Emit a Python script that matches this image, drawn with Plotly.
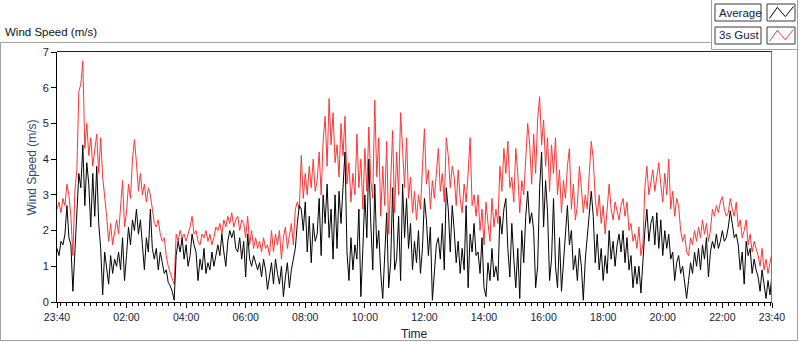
import pandas as pd
import plotly.graph_objects as go

# ---------------- data (4-minute samples, 23:40 -> 23:40 next day) ----------------
gust = [
    2.6, 2.8, 2.5, 2.9, 2.7, 3.3, 3.0, 2.4, 1.3, 3.1,
    3.7, 5.9, 6.1, 6.75, 4.3, 5.0, 4.1, 4.6, 3.8, 4.2,
    4.7, 3.6, 4.6, 3.5, 3.0, 2.4, 1.7, 2.2, 1.6, 2.0,
    2.3, 1.9, 2.6, 3.4, 2.1, 2.5, 3.3, 2.9, 4.0, 4.55,
    3.9, 3.1, 3.6, 3.0, 3.3, 2.8, 3.2, 3.0, 2.6, 2.2,
    2.1, 2.3, 1.9, 1.7, 1.8, 1.3, 1.0, 0.8, 0.65, 0.5,
    1.9, 1.7, 2.0, 1.8, 1.9, 1.7, 1.9, 2.1, 2.4, 1.9, 2.0,
    1.7, 1.6, 1.9, 1.8, 2.0, 1.7, 1.9, 1.6, 1.8, 2.1,
    2.0, 2.2, 1.9, 2.3, 2.1, 2.4, 2.2, 2.5, 2.1, 2.3,
    2.4, 2.0, 2.3, 2.2, 1.8, 2.4, 1.6, 2.0, 1.5, 1.8,
    1.5, 1.7, 1.4, 1.8, 1.5, 1.6, 1.3, 2.0, 1.4, 1.9,
    1.6, 2.0, 1.2, 1.8, 2.1, 1.5, 1.9, 2.2, 1.6, 2.6,
    2.8, 2.6, 4.1, 2.9, 3.6, 3.0, 3.8, 3.2, 4.0, 3.1,
    3.4, 4.2, 3.0, 4.5, 5.2, 3.8, 5.7, 4.4, 5.3, 3.9,
    4.4, 3.5, 5.0, 4.1, 5.2, 3.3, 3.9, 2.8, 3.6, 3.0,
    4.7, 3.2, 4.0, 2.6, 4.3, 3.1, 4.9, 3.4, 2.9, 5.65,
    3.5, 4.6, 2.4, 3.8, 2.7, 4.5, 1.9, 3.2, 4.8, 2.5,
    4.2, 3.0, 5.3, 4.3, 3.2, 4.6, 2.9, 3.5, 2.5, 3.1,
    2.3, 3.0, 2.6, 3.8, 4.85, 3.3, 3.7, 2.6, 3.4, 2.9, 3.5,
    4.3, 3.1, 3.6, 2.8, 4.6, 4.1, 3.2, 3.8, 3.5, 2.7,
    3.7, 2.9, 2.5, 3.3, 2.8, 3.6, 4.6, 2.7, 3.0, 2.4,
    3.0, 2.0, 2.6, 1.6, 2.8, 2.2, 1.7, 2.9, 2.1, 2.6,
    2.2, 3.8, 3.1, 4.3, 3.6, 4.5, 3.2, 3.5, 2.8, 4.3,
    3.6, 2.5, 3.4, 3.0, 4.1, 5.0, 4.4, 3.3, 4.7, 3.6,
    5.1, 5.75, 4.4, 5.1, 3.8, 4.6, 3.1, 4.4, 3.6, 4.6,
    3.0, 3.7, 2.5, 3.4, 2.9, 3.8, 4.3, 2.6, 3.3, 2.3,
    2.7, 3.8, 3.2, 2.5, 3.0, 2.6, 3.6, 4.5, 4.0, 2.9,
    2.4, 3.0, 2.2, 2.7, 1.9, 2.5, 3.3, 2.6, 2.3, 2.8,
    2.5, 2.3, 2.7, 2.9, 2.4, 2.8, 2.0, 2.2, 1.7, 1.9,
    1.5, 2.1, 1.3, 1.6, 3.2, 3.8, 3.0, 3.4, 3.7, 3.1,
    3.5, 3.9, 3.3, 2.8, 3.6, 3.0, 4.0, 2.6, 3.1, 2.4, 2.9,
    2.7, 2.0, 1.7, 1.9, 1.4, 1.3, 1.8, 1.6, 2.0, 1.7,
    2.1, 1.8, 2.3, 1.9, 2.2, 1.7, 2.0, 2.6, 2.4, 2.7,
    2.5, 2.8, 2.95, 2.6, 2.4, 2.5, 2.9, 2.6, 2.4, 2.8,
    2.1, 2.3, 1.8, 2.0, 2.3, 1.6, 1.9, 1.4, 1.7, 1.5,
    1.3, 1.0, 1.5, 0.9, 1.2, 0.8, 1.1, 1.4,
]

average = [
    1.5, 1.3, 1.7, 1.6, 1.9, 2.7, 1.8, 1.6, 0.3, 1.5,
    2.6, 3.6, 3.2, 4.4, 2.7, 3.9, 3.3, 2.1, 3.6, 2.4,
    3.8, 2.2, 1.5, 0.2, 1.4, 0.9, 0.5, 1.3, 0.8, 1.2,
    1.0, 1.4, 0.9, 1.8, 0.6, 1.3, 2.1, 1.6, 2.3, 2.0,
    2.6, 1.9, 2.3, 1.6, 0.9, 1.8, 1.4, 2.6, 1.5, 1.2,
    1.5, 0.9, 1.4, 1.1, 0.8, 0.9, 0.55, 0.45, 0.3, 0.05,
    1.3, 1.7, 1.4, 1.8, 1.2, 1.6, 1.0, 1.3, 1.9, 1.6, 1.4,
    0.6, 1.2, 0.9, 1.5, 0.8, 1.1, 0.9, 1.4, 1.0, 1.3,
    1.6, 1.3, 1.9, 1.4, 1.0, 1.7, 2.0, 1.8, 2.0, 1.5,
    1.4, 1.8, 1.2, 1.7, 0.7, 1.9, 1.2, 1.0, 1.3, 1.1,
    0.9, 1.1, 0.7, 1.2, 0.9, 0.35, 0.8, 1.1, 0.5, 1.2,
    0.8, 0.5, 1.0, 0.15, 0.7, 1.1, 0.4, 0.9, 1.2, 1.5,
    2.2, 2.7, 2.6, 2.0, 2.8, 1.4, 2.4, 1.1, 2.2, 1.7,
    1.9, 2.9, 1.3, 3.0, 2.2, 3.3, 1.8, 2.6, 1.2, 3.0,
    1.5, 3.1, 2.2, 3.4, 4.2, 1.4, 0.6, 1.8, 0.9, 1.6,
    1.2, 2.6, 0.15, 1.5, 3.0, 1.8, 4.0, 2.2, 0.9, 3.3,
    1.5, 2.0, 0.8, 0.1, 1.2, 2.5, 0.4, 1.1, 3.2, 0.9,
    1.2, 2.4, 0.6, 3.3, 1.8, 2.9, 1.5, 2.2, 0.9, 1.7,
    1.1, 2.0, 0.8, 1.5, 2.9, 2.3, 1.3, 2.1, 0.05, 1.0, 1.6,
    1.8, 1.2, 2.2, 0.9, 3.2, 2.6, 1.4, 2.7, 2.0, 1.1,
    1.7, 0.8, 1.5, 0.9, 2.7, 0.4, 1.9, 1.4, 2.2, 1.3,
    1.4, 0.8, 1.8, 0.4, 0.15, 1.1, 0.6, 1.5, 0.7, 1.0,
    0.6, 2.4, 1.9, 2.6, 2.9, 1.5, 0.7, 2.2, 1.2, 0.4,
    1.5, 0.1, 2.0, 1.1, 2.4, 3.1, 2.2, 2.5, 2.0, 0.4,
    1.0, 3.2, 4.2, 2.1, 3.4, 2.5, 0.6, 1.2, 2.9, 1.0,
    0.4, 1.8, 0.3, 1.2, 2.1, 2.7, 1.6, 2.0, 0.9, 1.3,
    0.6, 1.5, 1.0, 0.05, 1.2, 1.9, 2.6, 3.1, 2.4, 1.1,
    1.9, 0.9, 1.5, 0.6, 1.3, 0.8, 2.0, 1.2, 1.7, 1.0,
    1.6, 1.9, 1.4, 2.0, 1.1, 1.8, 0.9, 1.3, 0.4, 1.0,
    0.5, 1.0, 0.25, 1.2, 2.0, 2.6, 1.7, 2.2, 2.4, 1.6,
    2.5, 1.5, 2.3, 1.3, 2.0, 1.5, 1.9, 1.2, 1.4, 0.6, 1.1,
    1.3, 0.8, 1.0, 0.5, 0.1, 0.6, 1.1, 0.8, 1.4, 1.0,
    1.5, 0.9, 1.6, 1.2, 1.8, 0.7, 1.4, 1.7, 1.5, 1.9,
    1.5, 1.7, 2.0, 1.7, 1.8, 2.1, 2.55, 2.2, 1.8, 1.9,
    1.6, 0.9, 1.4, 0.5, 1.7, 1.3, 1.5, 0.8, 1.2, 0.9,
    0.7, 0.3, 0.9, 0.5, 0.1, 0.6, 0.2, 0.8,
]

series_names = ["Average", "3s Gust"]
y_ticks = [0, 1, 2, 3, 4, 5, 6, 7]

start = pd.Timestamp("2000-01-01 23:40")
end = start + pd.Timedelta(hours=24)
times = pd.date_range(start, periods=len(gust), freq="4min")
major_ticks = [start] + list(pd.date_range("2000-01-02 02:00", "2000-01-02 22:00", freq="2h")) + [end]

# ---------------- layout geometry (pixels) ----------------
W, H = 800, 342
L, R, T, B = 57, 772, 52, 302


def X(px):
    return (px - L) / (R - L)


def Y(py):
    return (B - py) / (B - T)


FONT = "Liberation Sans"
TXT = "#14213d"
FRAME = "#a0a0a0"

fig = go.Figure()
fig.add_trace(go.Scatter(x=times, y=gust, mode="lines", name=series_names[1],
                         line=dict(color="#ff3535", width=1), hoverinfo="skip"))
fig.add_trace(go.Scatter(x=times, y=average, mode="lines", name=series_names[0],
                         line=dict(color="#000000", width=1), hoverinfo="skip"))


def line(x0, y0, x1, y1, color=FRAME, width=1):
    return dict(type="line", xref="paper", yref="paper", x0=X(x0), y0=Y(y0), x1=X(x1), y1=Y(y1),
                line=dict(color=color, width=width))


def rect(x0, y0, x1, y1, color="#3a3a3a"):
    return dict(type="rect", xref="paper", yref="paper", x0=X(x0), y0=Y(y0), x1=X(x1), y1=Y(y1),
                line=dict(color=color, width=1), fillcolor="white", layer="above")


def zig(pts, color):
    p = "M " + " L ".join(f"{X(a):.5f},{Y(b):.5f}" for a, b in pts)
    return dict(type="path", xref="paper", yref="paper", path=p, line=dict(color=color, width=1))


shapes = [
    line(0.5, 42.5, 711.5, 42.5),
    line(0.5, 42.5, 0.5, 340.5),
    line(0.5, 340.5, 797.5, 340.5),
    line(797.5, 0, 797.5, 340.5),
    line(711.5, 0, 711.5, 49.5),
    line(711.5, 49.5, 797.5, 49.5),
    line(57, 51.5, 772, 51.5, color="#202020"),
    line(771.5, 51.5, 771.5, 302, color="#7a7a7a"),
    rect(715, 4, 761, 21), rect(767, 4, 795, 21),
    rect(715, 27, 761, 44), rect(767, 27, 795, 44),
    zig([(769.5, 18.5), (777.3, 7.3), (785.3, 16.7), (793.5, 6.5)], "#000000"),
    zig([(769.5, 41.5), (777.3, 30.3), (785.3, 39.7), (793.5, 29.5)], "#ff3535"),
]

annotations = [
    dict(text="Wind Speed (m/s)", x=X(3), y=Y(32), xanchor="left", yanchor="middle",
         font=dict(family=FONT, size=11.5, color="#111111")),
    dict(text=series_names[0], x=X(716.5), y=Y(12.5), xanchor="left", yanchor="middle",
         font=dict(family=FONT, size=11.5, color=TXT)),
    dict(text=series_names[1], x=X(716.5), y=Y(35.5), xanchor="left", yanchor="middle",
         font=dict(family=FONT, size=11.5, color=TXT)),
    dict(text="Wind Speed (m/s)", x=X(31.5), y=Y(168), textangle=-90, xanchor="center", yanchor="middle",
         font=dict(family=FONT, size=12, color="#2a4a80")),
    dict(text="Time", x=X(414.5), y=Y(334), xanchor="center", yanchor="middle",
         font=dict(family=FONT, size=12, color=TXT)),
]
for a in annotations:
    a.update(xref="paper", yref="paper", showarrow=False)

fig.update_layout(
    width=W, height=H,
    margin=dict(l=L, r=W - R, t=T, b=H - B, pad=0),
    paper_bgcolor="white", plot_bgcolor="white",
    showlegend=False, hovermode=False,
    shapes=shapes, annotations=annotations,
    font=dict(family=FONT, size=11, color=TXT),
)
fig.update_xaxes(
    type="date", range=[start, end],
    tickmode="array", tickvals=major_ticks, tickformat="%H:%M",
    ticks="outside", ticklen=5, tickcolor="black", tickwidth=1,
    showline=True, linecolor="black", linewidth=1,
    showgrid=False, zeroline=False,
    tickfont=dict(family=FONT, size=10.5, color=TXT),
    minor=dict(ticks="outside", ticklen=3, tickcolor="black", dtick=12 * 60 * 1000,
               tick0="2000-01-02 00:00", showgrid=False),
)
fig.update_yaxes(
    range=[0, 7], tickmode="array", tickvals=y_ticks,
    ticks="outside", ticklen=5, tickcolor="black", tickwidth=1,
    showline=True, linecolor="black", linewidth=1,
    showgrid=False, zeroline=False,
    tickfont=dict(family=FONT, size=11, color=TXT),
)

fig.write_html(
    "out.html",
    config={"displayModeBar": False, "staticPlot": True},
    post_script="document.body.style.margin='0';document.body.style.overflow='hidden';",
)
